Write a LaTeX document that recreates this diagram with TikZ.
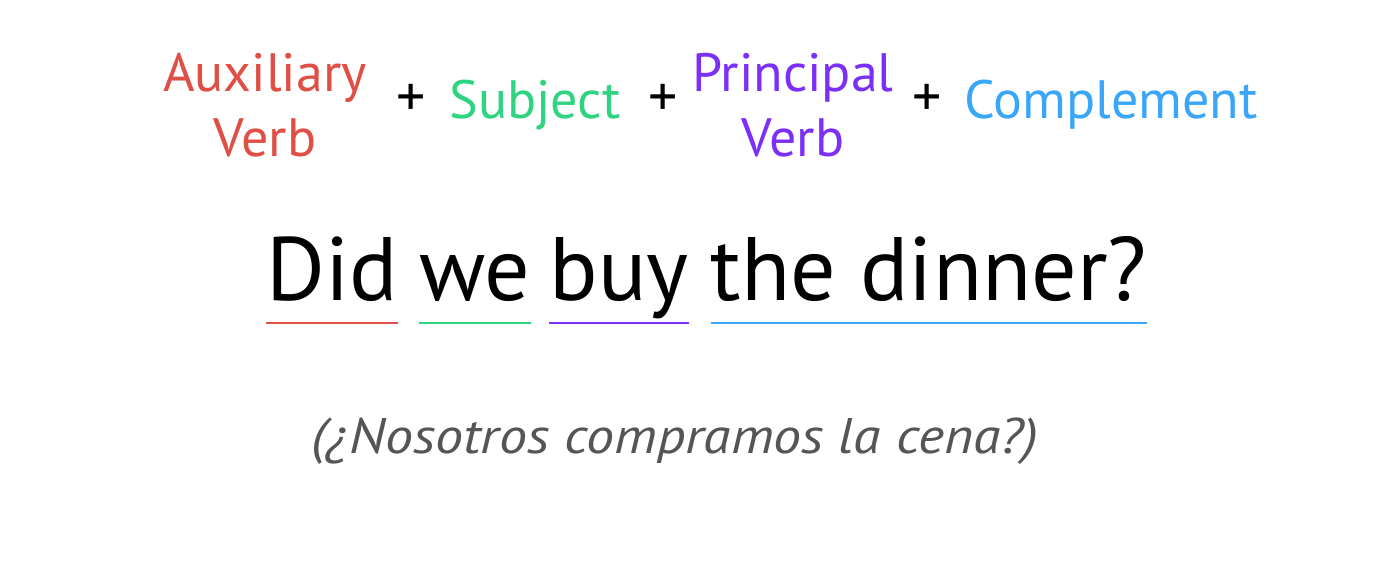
\documentclass[tikz,border=0pt]{standalone}
\usepackage{fontspec}
\setmainfont{PT Sans}
\usetikzlibrary{positioning}

\definecolor{auxred}{HTML}{E04F45}
\definecolor{subjgreen}{HTML}{2ED47F}
\definecolor{princpurple}{HTML}{7B2FF7}
\definecolor{complblue}{HTML}{3AA6F8}
\definecolor{transgray}{HTML}{555555}

\tikzset{
  label/.style={inner sep=0pt, font=\fontsize{27}{32.5}\selectfont, align=center},
  plus/.style={inner sep=0pt, font=\fontsize{29}{30}\selectfont},
  word/.style={inner sep=0pt, anchor=base, font=\fontsize{45}{50}\selectfont},
  uline/.style={line width=1pt}
}

\begin{document}
\begin{tikzpicture} [x=0.5pt,y=-0.5pt]
 \useasboundingbox (0,0) rectangle (1400,568);
 \node [label, auxred, anchor=north] (aux) at (265,53) {Auxiliary\\Verb};
 \node [plus] (plusA) at (411,100) {+};
 \node [label, subjgreen, anchor=base] (subj) at (535,118) {Subject};
 \node [plus] (plusB) at (663,100) {+};
 \node [label, princpurple, anchor=north] (princ) at (793,53) {Principal\\Verb};
 \node [plus] (plusC) at (927,100) {+};
 \node [label, complblue, anchor=base] (compl) at (1111,118) {Complement};

 \node [word] (did) at (332,300) {Did};
 \node [word] (we) at (475,300) {we};
 \node [word] (buy) at (619,300) {buy};
 \node [word] (dinner) at (929,300) {the dinner?};
 \draw [uline, auxred] ([yshift=-11.5pt]did.base west) -- ([yshift=-11.5pt]did.base east);
 \draw [uline, subjgreen] ([yshift=-11.5pt]we.base west) -- ([yshift=-11.5pt]we.base east);
 \draw [uline, princpurple] ([yshift=-11.5pt]buy.base west) -- ([yshift=-11.5pt]buy.base east);
 \draw [uline, complblue] ([yshift=-11.5pt]dinner.base west) -- ([yshift=-11.5pt]dinner.base east);

 \node [inner sep=0pt, anchor=base, transgray, font=\fontsize{25}{28}\selectfont\itshape\addfontfeature{FakeStretch=1.12}] (trans) at (675,453) {(¿Nosotros compramos la cena?)};
\end{tikzpicture}
\end{document}
